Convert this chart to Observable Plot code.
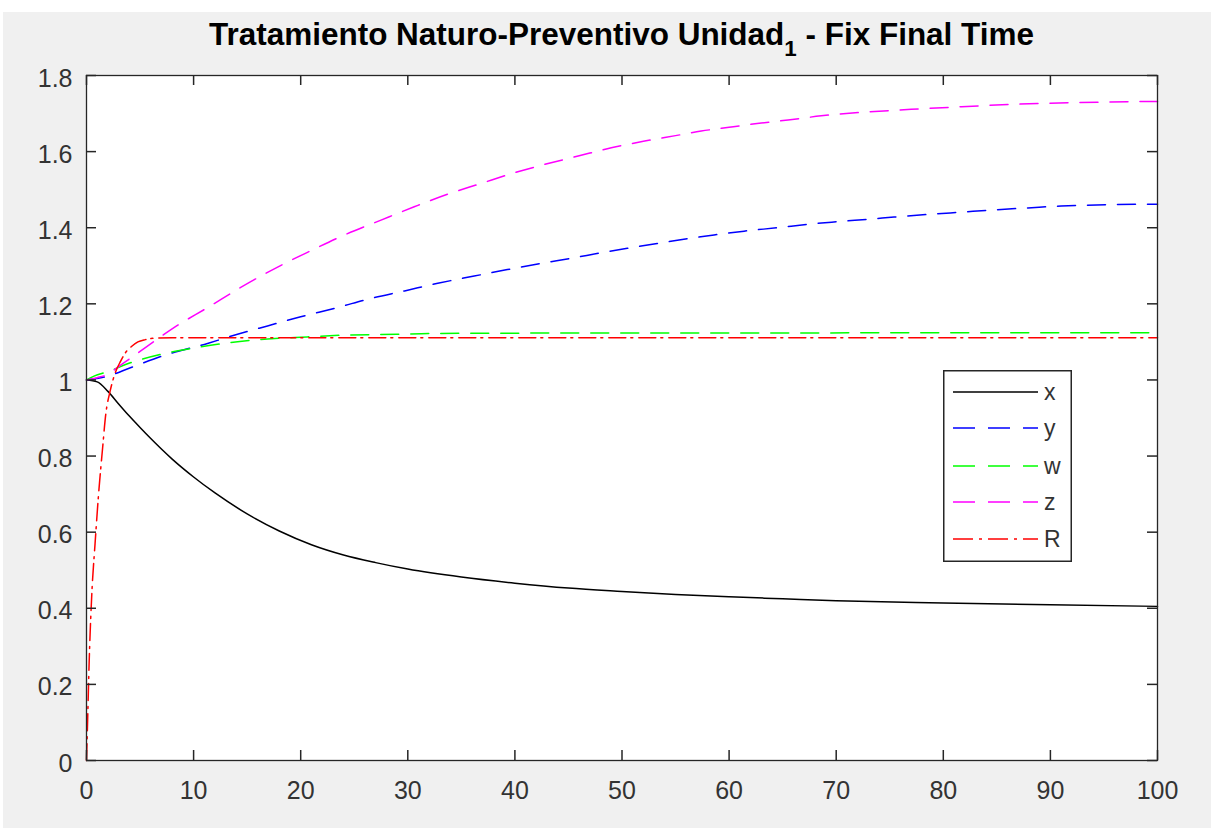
<!DOCTYPE html>
<html>
<head>
<meta charset="utf-8">
<script src="https://cdn.jsdelivr.net/npm/d3@7"></script>
<script src="https://cdn.jsdelivr.net/npm/@observablehq/plot@0.6"></script>
<style>
  html, body { margin: 0; padding: 0; width: 1211px; height: 828px; overflow: hidden; background: #ffffff; }
  #bg { position: absolute; left: 3px; top: 12px; right: 0; bottom: 0; background: #f0f0f0; }
  #chart { position: absolute; left: 0; top: 0; }
  #title { position: absolute; left: 0; top: 0; }
  #legend { position: absolute; left: 943px; top: 370px; }
  text { font-family: "Liberation Sans", Arial, Helvetica, sans-serif; }
</style>
</head>
<body>
<div id="bg"></div>
<div id="chart"></div>
<svg id="title" width="1211" height="75">
  <text x="621.5" y="45" text-anchor="middle" font-size="31" font-weight="bold" fill="#000" textLength="825" lengthAdjust="spacingAndGlyphs">Tratamiento Naturo-Preventivo Unidad<tspan font-size="22" dy="11">1</tspan><tspan dy="-11"> - Fix Final Time</tspan></text>
</svg>
<div id="legend"></div>
<script>
// ---- data ----
const xTicks = [0, 10, 20, 30, 40, 50, 60, 70, 80, 90, 100];
const yTicks = [0, 0.2, 0.4, 0.6, 0.8, 1, 1.2, 1.4, 1.6, 1.8];

const tX = [0, 1, 2, 3, 4, 5, 6, 8, 10, 12, 15, 18, 21, 24, 27, 30, 35, 40, 45, 50, 55, 60, 65, 70, 80, 90, 100];
const xVals = [1, 0.995, 0.97, 0.937, 0.905, 0.875, 0.846, 0.792, 0.745, 0.703, 0.648, 0.603, 0.567, 0.54, 0.52, 0.503, 0.482, 0.466, 0.453, 0.444, 0.436, 0.43, 0.425, 0.42, 0.414, 0.409, 0.405];

const tY = [0, 2, 4.1, 7.2, 11.3, 14.1, 16.9, 20, 23.4, 26.5, 29.7, 32.8, 36.2, 39.3, 42.4, 45.5, 48, 50.5, 53.6, 56.1, 58.6, 61.4, 64.5, 67.7, 70.2, 73.3, 75.4, 78.6, 81.7, 84.8, 87.9, 91, 100];
const yVals = [1, 1.01, 1.032, 1.064, 1.096, 1.12, 1.142, 1.166, 1.19, 1.214, 1.234, 1.254, 1.273, 1.29, 1.306, 1.321, 1.334, 1.346, 1.36, 1.371, 1.381, 1.391, 1.4, 1.41, 1.416, 1.423, 1.428, 1.435, 1.441, 1.447, 1.452, 1.457, 1.462];

const tW = [0, 0.7, 2, 4.1, 7.2, 10.3, 13.4, 16.6, 20.6, 24.4, 29, 32, 40, 100];
const wVals = [1, 1.01, 1.022, 1.045, 1.069, 1.085, 1.098, 1.107, 1.113, 1.118, 1.12, 1.122, 1.123, 1.124];

const tZ = [0, 1, 2, 3, 4, 5, 6.5, 8.2, 11.3, 14.4, 17.8, 20.9, 24, 27.5, 30.6, 33.7, 36.8, 39.9, 43, 46, 49, 52, 55, 57.4, 60, 63, 65.5, 68.6, 72.3, 77, 81.7, 86.4, 92.6, 100];
const zVals = [1, 1.006, 1.015, 1.035, 1.055, 1.075, 1.105, 1.138, 1.19, 1.243, 1.296, 1.339, 1.38, 1.42, 1.455, 1.488, 1.516, 1.544, 1.568, 1.589, 1.61, 1.627, 1.642, 1.654, 1.664, 1.675, 1.683, 1.694, 1.703, 1.711, 1.718, 1.724, 1.729, 1.732];

const tR = [0, 0.1, 0.25, 0.5, 0.8, 1.1, 1.5, 1.8, 2.2, 2.7, 3.2, 3.6, 4.2, 4.8, 5.5, 6.5, 8, 10, 20, 40, 60, 80, 100];
const rVals = [0, 0.1, 0.26, 0.44, 0.57, 0.69, 0.82, 0.91, 0.97, 1.02, 1.05, 1.07, 1.088, 1.1, 1.106, 1.11, 1.111, 1.111, 1.111, 1.111, 1.111, 1.111, 1.111];

const seriesNames = ["x", "y", "w", "z", "R"];
const seriesColors = ["#000000", "#0000ff", "#00ff00", "#ff00ff", "#ff0000"];
const seriesDash = [null, "18,12", "18,12", "18,12", "17,5,2,6"];

// ---- build tables ----
const toRows = (ts, vs) => ts.map((t, i) => ({t, v: vs[i]}));
const series = [toRows(tX, xVals), toRows(tY, yVals), toRows(tW, wVals), toRows(tZ, zVals), toRows(tR, rVals)];

const W = 1211, H = 828;
const mL = 86, mR = 54, mT = 75, mB = 68;
const pw = W - mL - mR, ph = H - mT - mB;
const axisColor = "#262626";
const labelColor = "#333333";
const tickLen = 10;
const fmt = d => String(+d.toFixed(1));

const lineMarks = series.map((rows, i) => Plot.line(rows, {
  x: "t", y: "v",
  stroke: seriesColors[i],
  strokeWidth: 1.5,
  strokeDasharray: seriesDash[i],
  curve: "monotone-x"
}));

const chart = Plot.plot({
  width: W, height: H,
  marginLeft: mL, marginRight: mR, marginTop: mT, marginBottom: mB,
  style: {background: "transparent", fontFamily: "'Liberation Sans', Arial, Helvetica, sans-serif", color: axisColor},
  x: {domain: [0, 100]},
  y: {domain: [0, 1.8]},
  marks: [
    Plot.frame({fill: "white", stroke: null}),
    ...lineMarks,
    Plot.tickX(xTicks, {x: d => d, insetTop: ph - tickLen, stroke: axisColor, strokeWidth: 1.5}),
    Plot.tickX(xTicks, {x: d => d, insetBottom: ph - tickLen, stroke: axisColor, strokeWidth: 1.5}),
    Plot.tickY(yTicks, {y: d => d, insetRight: pw - tickLen, stroke: axisColor, strokeWidth: 1.5}),
    Plot.tickY(yTicks, {y: d => d, insetLeft: pw - tickLen, stroke: axisColor, strokeWidth: 1.5}),
    Plot.axisX(xTicks, {tickSize: 0, tickPadding: 21, fontSize: 25, label: null, tickFormat: fmt, fill: labelColor}),
    Plot.axisY(yTicks, {tickSize: 0, tickPadding: 14, fontSize: 25, label: null, tickFormat: fmt, fill: labelColor, dy: 3}),
    Plot.frame({stroke: axisColor, strokeWidth: 1.3})
  ]
});
document.getElementById("chart").appendChild(chart);

// ---- legend ----
const lw = 129, lh = 192;
const rowY = [22, 58, 96, 132, 169];
const ns = "http://www.w3.org/2000/svg";
const lg = document.createElementNS(ns, "svg");
lg.setAttribute("width", lw);
lg.setAttribute("height", lh);
const box = document.createElementNS(ns, "rect");
box.setAttribute("x", 0.75); box.setAttribute("y", 0.75);
box.setAttribute("width", lw - 1.5); box.setAttribute("height", lh - 1.5);
box.setAttribute("fill", "white"); box.setAttribute("stroke", axisColor); box.setAttribute("stroke-width", 1.5);
lg.appendChild(box);
const legendDash = [null, "22,13", "22,13", "22,13", "20,6,3,6"];
seriesNames.forEach((name, i) => {
  const ln = document.createElementNS(ns, "line");
  ln.setAttribute("x1", 10); ln.setAttribute("x2", 95);
  ln.setAttribute("y1", rowY[i]); ln.setAttribute("y2", rowY[i]);
  ln.setAttribute("stroke", seriesColors[i]); ln.setAttribute("stroke-width", 1.5);
  if (legendDash[i]) ln.setAttribute("stroke-dasharray", legendDash[i]);
  lg.appendChild(ln);
  const tx = document.createElementNS(ns, "text");
  tx.setAttribute("x", 101); tx.setAttribute("y", rowY[i] + 8);
  tx.setAttribute("font-size", 23); tx.setAttribute("fill", labelColor);
  tx.textContent = name;
  lg.appendChild(tx);
});
document.getElementById("legend").appendChild(lg);
</script>
</body>
</html>
